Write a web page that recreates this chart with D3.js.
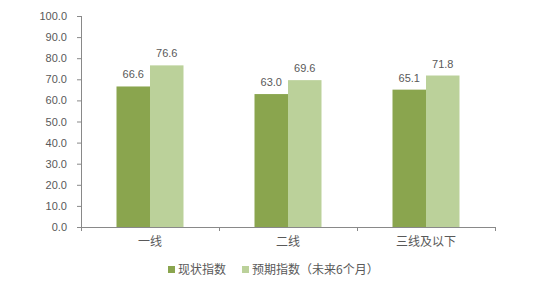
<!DOCTYPE html>
<html>
<head>
<meta charset="utf-8">
<script src="https://cdn.jsdelivr.net/npm/d3@7"></script>
<style>
  body { margin: 0; background: #fff; }
  svg { display: block; }
</style>
</head>
<body>
<svg id="chart"></svg>
<script>
"use strict";

const categories = ["一线", "二线", "三线及以下"];
const seriesNames = ["现状指数", "预期指数（未来6个月）"];
const current = [66.6, 63.0, 65.1];
const expected = [76.6, 69.6, 71.8];
const yTicks = [0, 10, 20, 30, 40, 50, 60, 70, 80, 90, 100];

const colors = { dark: "#8aa54e", light: "#bbd19a", text: "#595959", axis: "#898989" };
const width = 547, height = 288;
const margin = { left: 81, right: 52, top: 16, bottom: 61 };

const svg = d3.select("#chart").attr("width", width).attr("height", height);

const x = d3.scaleBand().domain(categories).range([margin.left, width - margin.right]);
const y = d3.scaleLinear().domain([0, 100]).range([height - margin.bottom, margin.top]);
const inner = d3.scaleBand().domain([0, 1]).range([0, 67]);
const latin = "'Liberation Sans', Arial, sans-serif";
const cjk = "'Noto Sans CJK SC', sans-serif";

// y axis
const yAxis = svg.append("g")
  .attr("transform", `translate(${margin.left},0)`)
  .call(d3.axisLeft(y).tickValues(yTicks).tickFormat(d3.format(".1f")).tickSize(4).tickPadding(10));
yAxis.selectAll("path, line").attr("stroke", colors.axis);
yAxis.select(".domain").attr("d", `M0.5,${y(0)}V${y(100)}`);
yAxis.selectAll("text").attr("fill", colors.text).style("font-family", latin).style("font-size", "11px");

// bars
const groups = svg.append("g").selectAll("g")
  .data(categories.map((c, i) => ({ c, vals: [current[i], expected[i]] })))
  .join("g")
  .attr("transform", d => `translate(${x(d.c) + x.bandwidth() / 2 - 33.5},0)`);

groups.selectAll("rect")
  .data(d => d.vals)
  .join("rect")
  .attr("x", (d, i) => inner(i))
  .attr("width", inner.bandwidth())
  .attr("y", d => y(d))
  .attr("height", d => y(0) - y(d))
  .attr("fill", (d, i) => i ? colors.light : colors.dark);

groups.selectAll("text")
  .data(d => d.vals)
  .join("text")
  .attr("x", (d, i) => inner(i) + inner.bandwidth() / 2)
  .attr("y", d => y(d) - 8)
  .attr("text-anchor", "middle")
  .attr("fill", colors.text)
  .style("font-family", latin)
  .style("font-size", "11px")
  .text(d => d.toFixed(1));

// x axis
const xAxis = svg.append("g")
  .attr("transform", `translate(0,${y(0)})`)
  .call(d3.axisBottom(x).tickSize(0).tickPadding(10));
xAxis.select(".domain").attr("stroke", colors.axis).attr("d", `M${margin.left},0.5H${width - margin.right}`);
xAxis.selectAll("text").attr("fill", colors.text).style("font-family", cjk).style("font-size", "12px");
svg.append("g").selectAll("line")
  .data(categories.map(c => x(c)).concat([x(categories[categories.length - 1]) + x.bandwidth()]))
  .join("line")
  .attr("x1", d => Math.round(d) + 0.5).attr("x2", d => Math.round(d) + 0.5)
  .attr("y1", y(0)).attr("y2", y(0) + 4)
  .attr("stroke", colors.axis);

// legend
const legendX = [168, 242];
const legend = svg.append("g").selectAll("g")
  .data(seriesNames)
  .join("g")
  .attr("transform", (d, i) => `translate(${legendX[i]},266)`);
legend.append("rect").attr("width", 7).attr("height", 7).attr("fill", (d, i) => i ? colors.light : colors.dark);
legend.append("text")
  .attr("x", 10).attr("y", 8)
  .attr("fill", colors.text)
  .style("font-family", cjk)
  .style("font-size", "12px")
  .text(d => d);
</script>
</body>
</html>
